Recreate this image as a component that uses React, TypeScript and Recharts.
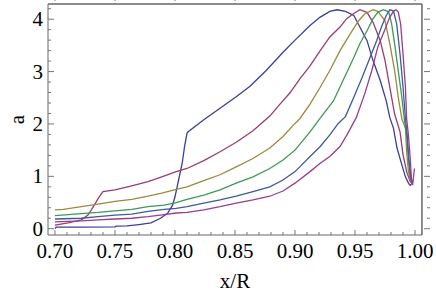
import React from 'react';
import { LineChart, Line, XAxis, YAxis, Label, ReferenceLine } from 'recharts';

// Series 1 (blue)
const s1X = [0.700, 0.701, 0.720, 0.750, 0.751, 0.760, 0.770, 0.780, 0.788, 0.794, 0.798, 0.800, 0.803, 0.806, 0.808, 0.810, 0.811, 0.824, 0.8375, 0.851, 0.8625, 0.876, 0.890, 0.900, 0.9125, 0.921, 0.929, 0.935, 0.942, 0.949, 0.954, 0.960, 0.965, 0.971, 0.976, 0.979, 0.982, 0.985, 0.989, 0.992, 0.9945, 0.996, 0.997];
const s1Y = [0.0, 0.03, 0.03, 0.035, 0.05, 0.055, 0.08, 0.11, 0.2, 0.3, 0.45, 0.61, 0.93, 1.25, 1.57, 1.82, 1.85, 2.08, 2.30, 2.52, 2.72, 3.02, 3.37, 3.60, 3.88, 4.04, 4.15, 4.18, 4.15, 4.07, 3.85, 3.59, 3.21, 2.83, 2.44, 2.12, 1.92, 1.54, 1.22, 0.99, 0.87, 0.83, 0.85];

// Series 2 (red-magenta)
const s2X = [0.700, 0.711, 0.722, 0.7275, 0.732, 0.736, 0.740, 0.750, 0.764, 0.7775, 0.789, 0.801, 0.810, 0.824, 0.8375, 0.851, 0.865, 0.879, 0.8875, 0.896, 0.904, 0.9125, 0.921, 0.929, 0.9375, 0.943, 0.949, 0.954, 0.960, 0.965, 0.971, 0.975, 0.979, 0.983, 0.9875, 0.990, 0.993, 0.996, 0.9975];
const s2Y = [0.07, 0.11, 0.17, 0.26, 0.42, 0.58, 0.71, 0.74, 0.82, 0.90, 0.99, 1.09, 1.15, 1.30, 1.47, 1.65, 1.87, 2.15, 2.38, 2.60, 2.86, 3.11, 3.40, 3.66, 3.85, 4.01, 4.11, 4.18, 4.13, 3.94, 3.59, 3.21, 2.70, 2.19, 1.85, 1.41, 1.09, 0.90, 0.87];

// Series 3 (olive)
const s3X = [0.700, 0.707, 0.722, 0.736, 0.750, 0.764, 0.7775, 0.789, 0.801, 0.810, 0.824, 0.8375, 0.851, 0.865, 0.879, 0.890, 0.900, 0.904, 0.9125, 0.921, 0.929, 0.9375, 0.946, 0.953, 0.958, 0.965, 0.969, 0.975, 0.979, 0.983, 0.986, 0.989, 0.992, 0.993, 0.9945, 0.9964, 0.998];
const s3Y = [0.36, 0.37, 0.42, 0.47, 0.52, 0.56, 0.62, 0.68, 0.75, 0.80, 0.92, 1.03, 1.18, 1.34, 1.54, 1.76, 2.01, 2.10, 2.38, 2.70, 3.02, 3.40, 3.72, 3.97, 4.10, 4.18, 4.15, 3.97, 3.53, 3.02, 2.51, 2.10, 1.92, 1.47, 1.09, 0.90, 0.87];

// Series 4 (green)
const s4X = [0.700, 0.722, 0.736, 0.750, 0.764, 0.7775, 0.791, 0.801, 0.810, 0.824, 0.8375, 0.851, 0.865, 0.879, 0.890, 0.900, 0.9125, 0.921, 0.932, 0.940, 0.949, 0.954, 0.960, 0.965, 0.969, 0.9735, 0.978, 0.9805, 0.983, 0.986, 0.989, 0.991, 0.993, 0.9945, 0.996, 0.997];
const s4Y = [0.25, 0.29, 0.31, 0.34, 0.37, 0.42, 0.45, 0.50, 0.56, 0.64, 0.74, 0.87, 0.99, 1.15, 1.31, 1.50, 1.85, 2.11, 2.44, 2.83, 3.27, 3.53, 3.78, 4.01, 4.13, 4.18, 4.14, 3.91, 3.53, 3.02, 2.51, 2.10, 1.79, 1.34, 1.03, 0.87];

// Series 5 (blue)
const s5X = [0.700, 0.722, 0.736, 0.750, 0.764, 0.7775, 0.791, 0.801, 0.810, 0.824, 0.8375, 0.851, 0.865, 0.879, 0.890, 0.900, 0.904, 0.9125, 0.921, 0.929, 0.936, 0.942, 0.949, 0.956, 0.9625, 0.968, 0.972, 0.976, 0.979, 0.982, 0.9847, 0.9875, 0.990, 0.992, 0.9935, 0.995, 0.9965, 0.9975];
const s5Y = [0.185, 0.20, 0.23, 0.26, 0.28, 0.33, 0.37, 0.39, 0.42, 0.49, 0.55, 0.62, 0.71, 0.80, 0.93, 1.09, 1.18, 1.38, 1.57, 1.79, 2.01, 2.14, 2.51, 2.89, 3.27, 3.59, 3.85, 4.07, 4.18, 4.16, 3.91, 3.33, 2.70, 2.10, 1.79, 1.28, 0.96, 0.85];

// Series 6 (purple)
const s6X = [0.700, 0.722, 0.736, 0.750, 0.764, 0.7775, 0.791, 0.801, 0.810, 0.824, 0.8375, 0.851, 0.865, 0.879, 0.890, 0.900, 0.9125, 0.921, 0.929, 0.9375, 0.944, 0.951, 0.958, 0.964, 0.969, 0.975, 0.979, 0.982, 0.984, 0.986, 0.988, 0.990, 0.992, 0.993, 0.9945, 0.996, 0.997, 0.998, 0.9995];
const s6Y = [0.13, 0.15, 0.17, 0.185, 0.20, 0.23, 0.27, 0.30, 0.31, 0.36, 0.42, 0.49, 0.55, 0.62, 0.72, 0.87, 1.09, 1.25, 1.38, 1.57, 1.82, 2.12, 2.57, 3.02, 3.47, 3.81, 4.04, 4.15, 4.18, 4.14, 3.91, 3.33, 2.70, 2.10, 1.79, 1.34, 0.96, 0.83, 1.15];

const colors = ['#3F3D99', '#993D71', '#998B3D', '#3D9956', '#3D5A99', '#993D90'];

const xTickLabels = ['0.70', '0.75', '0.80', '0.85', '0.90', '0.95', '1.00'];
const yTickLabels = ['0', '1', '2', '3', '4'];

const xTicks: number[] = [];
for (let i = 70; i <= 100; i++) xTicks.push(i / 100);
const yTicks: number[] = [];
for (let i = 0; i <= 21; i++) yTicks.push(i / 5);

const zip = (xs: number[], ys: number[]) => xs.map((x, i) => ({ x, a: ys[i] }));
const series = [zip(s1X, s1Y), zip(s2X, s2Y), zip(s3X, s3Y), zip(s4X, s4Y), zip(s5X, s5Y), zip(s6X, s6Y)];
const frameData = [{ x: 0.70, a: 0 }, { x: 1.0, a: 4 }];

const FONT = 'Liberation Serif, serif';
const FS = 21;
const TICK = '#777';
const FRAME = '#666';

const X_DOMAIN: [number, number] = [0.6942, 1.0058];
const Y_DOMAIN: [number, number] = [-0.12, 4.29];

const xMajor = (v: number) => Math.round(v * 100) % 5 === 0;
const yMajor = (v: number) => Math.abs(v - Math.round(v)) < 1e-6;

const BottomTick = (props: any) => {
  const { x, y, payload } = props;
  const v = payload.value as number;
  const m = xMajor(v);
  const lbl = xTickLabels.find((t) => Math.abs(parseFloat(t) - v) < 1e-6);
  return (
    <g>
      <line x1={x} x2={x} y1={y} y2={y - (m ? 5 : 3)} stroke={TICK} />
      {m && lbl && (
        <text x={x} y={y + 23} textAnchor="middle" fontFamily={FONT} fontSize={FS} fill="#000">{lbl}</text>
      )}
    </g>
  );
};
const TopTick = (props: any) => {
  const { x, y, payload } = props;
  const m = xMajor(payload.value);
  return <line x1={x} x2={x} y1={y} y2={y + (m ? 5 : 3)} stroke={TICK} />;
};
const LeftTick = (props: any) => {
  const { x, y, payload } = props;
  const v = payload.value as number;
  const m = yMajor(v);
  const lbl = yTickLabels.find((t) => Math.abs(parseFloat(t) - v) < 1e-6);
  return (
    <g>
      <line x1={x} x2={x + (m ? 6 : 3)} y1={y} y2={y} stroke={TICK} />
      {m && lbl && (
        <text x={x - 5} y={y + 7} textAnchor="end" fontFamily={FONT} fontSize={FS} fill="#000">{lbl}</text>
      )}
    </g>
  );
};
const RightTick = (props: any) => {
  const { x, y, payload } = props;
  const m = yMajor(payload.value);
  return <line x1={x} x2={x - (m ? 6 : 3)} y1={y} y2={y} stroke={TICK} />;
};

export default function App() {
  return (
    <div style={{ position: 'absolute', left: 0, top: 0, width: 436, height: 297, background: '#fff' }}>
      <LineChart width={436} height={297} margin={{ top: 0, right: 0, bottom: 0, left: 0 }}>
        <XAxis
          dataKey="x"
          type="number"
          domain={X_DOMAIN}
          allowDataOverflow
          ticks={xTicks}
          interval={0}
          tick={<BottomTick />}
          tickLine={false}
          tickSize={0}
          tickMargin={0}
          height={62}
          stroke={FRAME}
        >
          <Label
            content={(p: any) => {
              const vb = p.viewBox;
              return (
                <text x={vb.x + vb.width / 2} y={vb.y + 53} textAnchor="middle" fontFamily={FONT} fontSize={FS} fill="#000">x/R</text>
              );
            }}
          />
        </XAxis>
        <XAxis
          xAxisId="t"
          orientation="top"
          dataKey="x"
          type="number"
          domain={X_DOMAIN}
          allowDataOverflow
          ticks={xTicks}
          interval={0}
          tick={<TopTick />}
          tickLine={false}
          height={4}
          stroke={FRAME}
        />
        <YAxis
          type="number"
          domain={Y_DOMAIN}
          allowDataOverflow
          ticks={yTicks}
          interval={0}
          tick={<LeftTick />}
          tickLine={false}
          tickSize={0}
          tickMargin={0}
          width={48}
          stroke={FRAME}
        >
          <Label
            content={(p: any) => {
              const vb = p.viewBox;
              const cy = vb.y + vb.height / 2;
              return (
                <text x={17} y={cy} transform={`rotate(-90 17 ${cy})`} textAnchor="middle" dominantBaseline="central" fontFamily={FONT} fontSize={FS} fill="#000">a</text>
              );
            }}
          />
        </YAxis>
        <YAxis
          yAxisId="r"
          orientation="right"
          type="number"
          domain={Y_DOMAIN}
          allowDataOverflow
          ticks={yTicks}
          interval={0}
          tick={<RightTick />}
          tickLine={false}
          width={14}
          stroke={FRAME}
        />
        <ReferenceLine y={4.2899} stroke={FRAME} />
        <ReferenceLine x={1.0057} stroke={FRAME} />
        <Line
          data={frameData}
          dataKey="a"
          xAxisId="t"
          yAxisId="r"
          stroke="#ffffff"
          strokeOpacity={0}
          dot={false}
          activeDot={false}
          legendType="none"
          isAnimationActive={false}
        />
        {series.map((d, i) => (
          <Line
            key={i}
            data={d}
            dataKey="a"
            type="linear"
            stroke={colors[i]}
            strokeWidth={1.3}
            dot={false}
            activeDot={false}
            isAnimationActive={false}
          />
        ))}
      </LineChart>
    </div>
  );
}
